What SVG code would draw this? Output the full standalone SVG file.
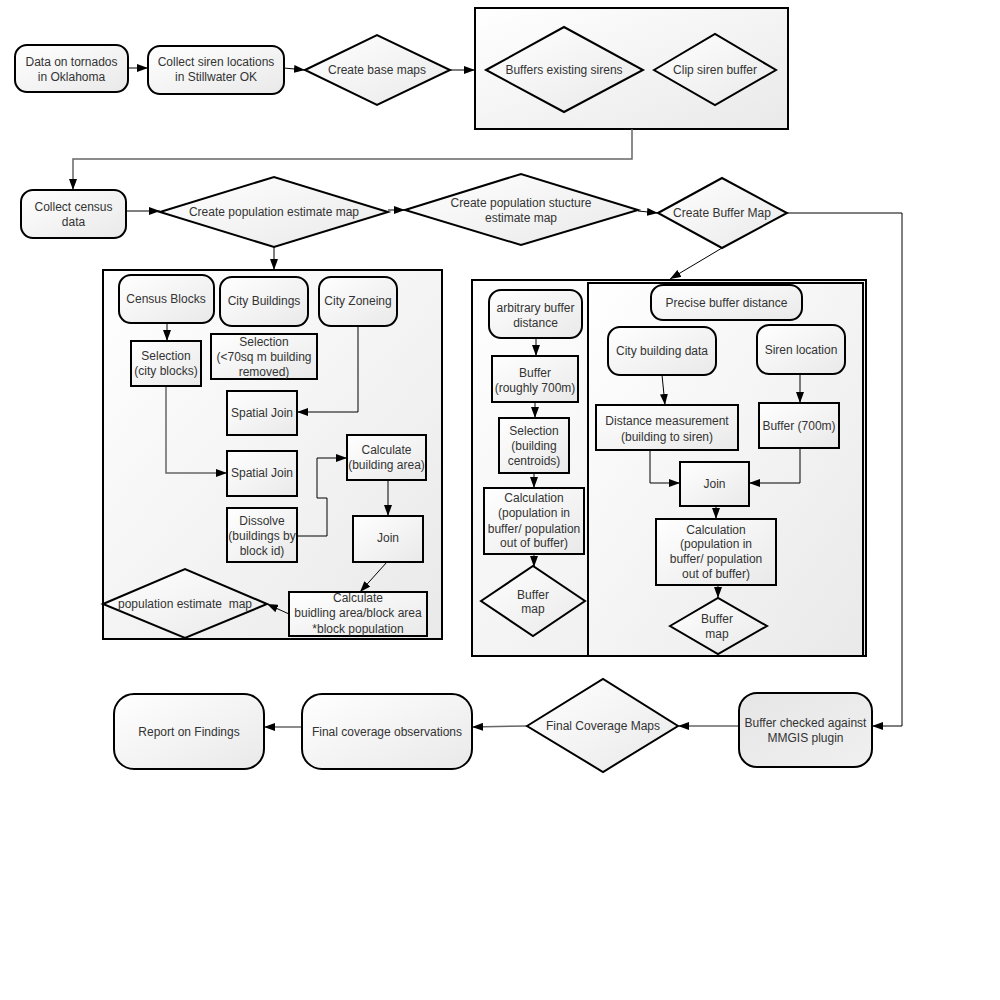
<svg xmlns="http://www.w3.org/2000/svg" width="1000" height="1000" viewBox="0 0 1000 1000">
<defs>
<linearGradient id="g" x1="0" y1="0" x2="1" y2="1">
<stop offset="0" stop-color="#ffffff"/>
<stop offset="1" stop-color="#e9e9e9"/>
</linearGradient>
<linearGradient id="g2" x1="0" y1="0" x2="1" y2="1">
<stop offset="0" stop-color="#e6e6e6"/>
<stop offset="1" stop-color="#f0f0f0"/>
</linearGradient>
<marker id="a" markerUnits="userSpaceOnUse" markerWidth="12" markerHeight="8" refX="11" refY="4" orient="auto">
<path d="M0,0 L11,4 L0,8 z" fill="#000"/>
</marker>
</defs>
<style>
.n{fill:url(#g);stroke:#000;stroke-width:2}
.c{fill:url(#g);stroke:#000;stroke-width:2}
.t{font-family:"Liberation Sans",Arial,sans-serif;font-size:12px;fill:#333;text-anchor:middle}
.l{fill:none;stroke:#000;stroke-width:1}
.lg{fill:none;stroke:#666;stroke-width:1.5}
.e{marker-end:url(#a)}
</style>
<rect width="1000" height="1000" fill="#fff"/>

<g id="containers">
<rect id="box-base" class="c" x="475" y="8" width="313" height="121"/>
<rect id="box-pop" class="c" x="103" y="270" width="339" height="369"/>
<rect id="box-buf-outer" class="c" x="472" y="280" width="394" height="376"/>
<rect id="box-buf-inner" class="c" x="588" y="283" width="275" height="373"/>
</g>

<g id="connectors">
<line class="l e" x1="128" y1="68" x2="148" y2="68"/>
<line class="l e" x1="284" y1="68" x2="305" y2="70"/>
<line class="l e" x1="450" y1="70" x2="475" y2="70"/>
<path class="lg e" d="M632,129 V159 H73 V190"/>
<line class="l e" x1="126" y1="211" x2="160" y2="211"/>
<line class="l e" x1="388" y1="210" x2="405" y2="210"/>
<line class="l e" x1="638" y1="211" x2="658" y2="213"/>
<path class="l e" d="M787,213 H902 V726 H872"/>
<line class="l e" x1="722" y1="248" x2="670" y2="279"/>
<line class="l e" x1="274" y1="247" x2="274" y2="270"/>
<line class="l e" x1="167" y1="323" x2="167" y2="341"/>
<path class="l e" d="M358,326 V412 H297"/>
<path class="lg e" d="M166,386 V473 H227"/>
<path class="l e" d="M297,536 H327 V498 H317 V458 H347"/>
<line class="l e" x1="388" y1="480" x2="388" y2="516"/>
<line class="l e" x1="387" y1="562" x2="360" y2="592"/>
<line class="l e" x1="289" y1="614" x2="267" y2="604"/>
<line class="l e" x1="536" y1="338" x2="536" y2="356"/>
<line class="l e" x1="535" y1="402" x2="535" y2="418"/>
<line class="l e" x1="534" y1="473" x2="534" y2="488"/>
<line class="l e" x1="534" y1="554" x2="534" y2="567"/>
<line class="l e" x1="662" y1="375" x2="665" y2="405"/>
<line class="l e" x1="800" y1="374" x2="800" y2="403"/>
<path class="l e" d="M650,450 V483 H680"/>
<path class="l e" d="M800,448 V483 H749"/>
<line class="l e" x1="716" y1="506" x2="716" y2="519"/>
<line class="l e" x1="718" y1="585" x2="718" y2="598"/>
<line class="lg e" x1="739" y1="726" x2="678" y2="726"/>
<line class="lg e" x1="527" y1="726" x2="472" y2="727"/>
<line class="lg e" x1="302" y1="727" x2="264" y2="727"/>
</g>

<g id="n-tornado"><rect class="n" x="15" y="45" width="113" height="47" rx="12"/><text class="t" x="71.5" y="66">Data on tornados</text><text class="t" x="71.5" y="81">in Oklahoma</text></g>
<g id="n-siren"><rect class="n" x="148" y="46" width="136" height="48" rx="12"/><text class="t" x="216" y="66">Collect siren locations</text><text class="t" x="216" y="81">in Stillwater OK</text></g>
<g id="n-basemaps"><polygon class="n" points="305,70 377,35 450,70 377,105"/><text class="t" x="377" y="74">Create base maps</text></g>
<g id="n-buffers"><polygon class="n" points="486,70 564,27 643,70 564,112"/><text class="t" x="564" y="74">Buffers existing sirens</text></g>
<g id="n-clip"><polygon class="n" points="654,70 715,34 776,70 715,105"/><text class="t" x="715" y="74">Clip siren buffer</text></g>

<g id="n-census"><rect class="n" x="21" y="190" width="105" height="48" rx="12"/><text class="t" x="73.5" y="211">Collect census</text><text class="t" x="73.5" y="226">data</text></g>
<g id="n-popmap"><polygon class="n" points="160,212 274,177 388,212 274,247"/><text class="t" x="274" y="216">Create population estimate map</text></g>
<g id="n-structmap"><polygon class="n" points="405,210 521,174 638,210 521,245"/><text class="t" x="521" y="207">Create population stucture</text><text class="t" x="521" y="222">estimate map</text></g>
<g id="n-buffermap"><polygon class="n" points="658,213 722,178 787,213 722,248"/><text class="t" x="722" y="217">Create Buffer Map</text></g>

<g id="n-censusblocks"><rect class="n" x="119" y="275" width="95" height="48" rx="12"/><text class="t" x="166" y="303">Census Blocks</text></g>
<g id="n-citybuildings"><rect class="n" x="220" y="277" width="88" height="49" rx="12"/><text class="t" x="264" y="305">City Buildings</text></g>
<g id="n-cityzoning"><rect class="n" x="319" y="277" width="78" height="49" rx="12"/><text class="t" x="358" y="305">City Zoneing</text></g>
<g id="n-selblocks"><rect class="n" x="131" y="341" width="70" height="45"/><text class="t" x="166" y="360">Selection</text><text class="t" x="166" y="375">(city blocks)</text></g>
<g id="n-sel70"><rect class="n" x="211" y="334" width="106" height="45"/><text class="t" x="264" y="346">Selection</text><text class="t" x="264" y="361">(&lt;70sq m building</text><text class="t" x="264" y="376">removed)</text></g>
<g id="n-sj1"><rect class="n" x="227" y="391" width="70" height="44"/><text class="t" x="262" y="417">Spatial Join</text></g>
<g id="n-sj2"><rect class="n" x="227" y="451" width="70" height="45"/><text class="t" x="262" y="477">Spatial Join</text></g>
<g id="n-dissolve"><rect class="n" x="227" y="508" width="70" height="54"/><text class="t" x="262" y="525">Dissolve</text><text class="t" x="262" y="540">(buildings by</text><text class="t" x="262" y="555">block id)</text></g>
<g id="n-calcarea"><rect class="n" x="347" y="435" width="79" height="45"/><text class="t" x="386.5" y="454">Calculate</text><text class="t" x="386.5" y="469">(building area)</text></g>
<g id="n-join1"><rect class="n" x="353" y="516" width="70" height="46"/><text class="t" x="388" y="542">Join</text></g>
<g id="n-calcpop"><rect class="n" x="289" y="592" width="138" height="44"/><text class="t" x="358" y="602">Calculate</text><text class="t" x="358" y="617">buidling area/block area</text><text class="t" x="358" y="633">*block population</text></g>
<g id="n-popestmap"><polygon class="n" points="103,604 185,569 267,604 185,638"/><text class="t" x="185" y="608" xml:space="preserve">population estimate  map</text></g>

<g id="n-arbitrary"><rect class="n" x="489" y="290" width="93" height="48" rx="12"/><text class="t" x="535.5" y="312">arbitrary buffer</text><text class="t" x="535.5" y="327">distance</text></g>
<g id="n-buf700r"><rect class="n" x="492" y="356" width="86" height="46"/><text class="t" x="535" y="377">Buffer</text><text class="t" x="535" y="392">(roughly 700m)</text></g>
<g id="n-selcent"><rect class="n" x="499" y="418" width="70" height="55"/><text class="t" x="534" y="435">Selection</text><text class="t" x="534" y="450">(building</text><text class="t" x="534" y="465">centroids)</text></g>
<g id="n-calcL"><rect class="n" x="484" y="488" width="100" height="66"/><text class="t" x="534" y="502">Calculation</text><text class="t" x="534" y="517">(population in</text><text class="t" x="534" y="533">buffer/ population</text><text class="t" x="534" y="547">out of buffer)</text></g>
<g id="n-bufmapL"><polygon class="n" points="481,601 533,566 585,601 533,636"/><text class="t" x="533" y="599">Buffer</text><text class="t" x="533" y="613">map</text></g>

<g id="n-precise"><rect class="n" x="651" y="285" width="151" height="35" rx="12"/><text class="t" x="726.5" y="307">Precise buffer distance</text></g>
<g id="n-citybuilddata"><rect class="n" x="608" y="327" width="108" height="48" rx="12"/><text class="t" x="662" y="355">City building data</text></g>
<g id="n-sirenloc"><rect class="n" x="757" y="325" width="88" height="49" rx="12"/><text class="t" x="801" y="354">Siren location</text></g>
<g id="n-distance"><rect class="n" x="596" y="405" width="142" height="45"/><text class="t" x="667" y="425">Distance measurement</text><text class="t" x="667" y="441">(building to siren)</text></g>
<g id="n-buf700"><rect class="n" x="759" y="403" width="80" height="45"/><text class="t" x="799" y="430">Buffer (700m)</text></g>
<g id="n-join2"><rect class="n" x="680" y="462" width="69" height="44"/><text class="t" x="714.5" y="488">Join</text></g>
<g id="n-calcR"><rect class="n" x="656" y="519" width="120" height="66"/><text class="t" x="716" y="534">Calculation</text><text class="t" x="716" y="548">(population in</text><text class="t" x="716" y="563">buffer/ population</text><text class="t" x="716" y="578">out of buffer)</text></g>
<g id="n-bufmapR"><polygon class="n" points="670,626 718,598 767,626 718,654"/><text class="t" x="717" y="623">Buffer</text><text class="t" x="717" y="638">map</text></g>

<g id="n-report"><rect class="n" x="114" y="694" width="150" height="75" rx="20"/><text class="t" x="189" y="736">Report on Findings</text></g>
<g id="n-observ"><rect class="n" x="302" y="694" width="170" height="75" rx="20"/><text class="t" x="387" y="736">Final coverage observations</text></g>
<g id="n-finalmaps"><polygon class="n" points="527,726 603,679 678,726 603,772"/><text class="t" x="603" y="730">Final Coverage Maps</text></g>
<g id="n-mmgis"><rect x="739" y="693" width="133" height="74" rx="18" fill="url(#g2)" stroke="#000" stroke-width="2"/><text class="t" x="805.5" y="727">Buffer checked against</text><text class="t" x="805.5" y="742">MMGIS plugin</text></g>
</svg>
